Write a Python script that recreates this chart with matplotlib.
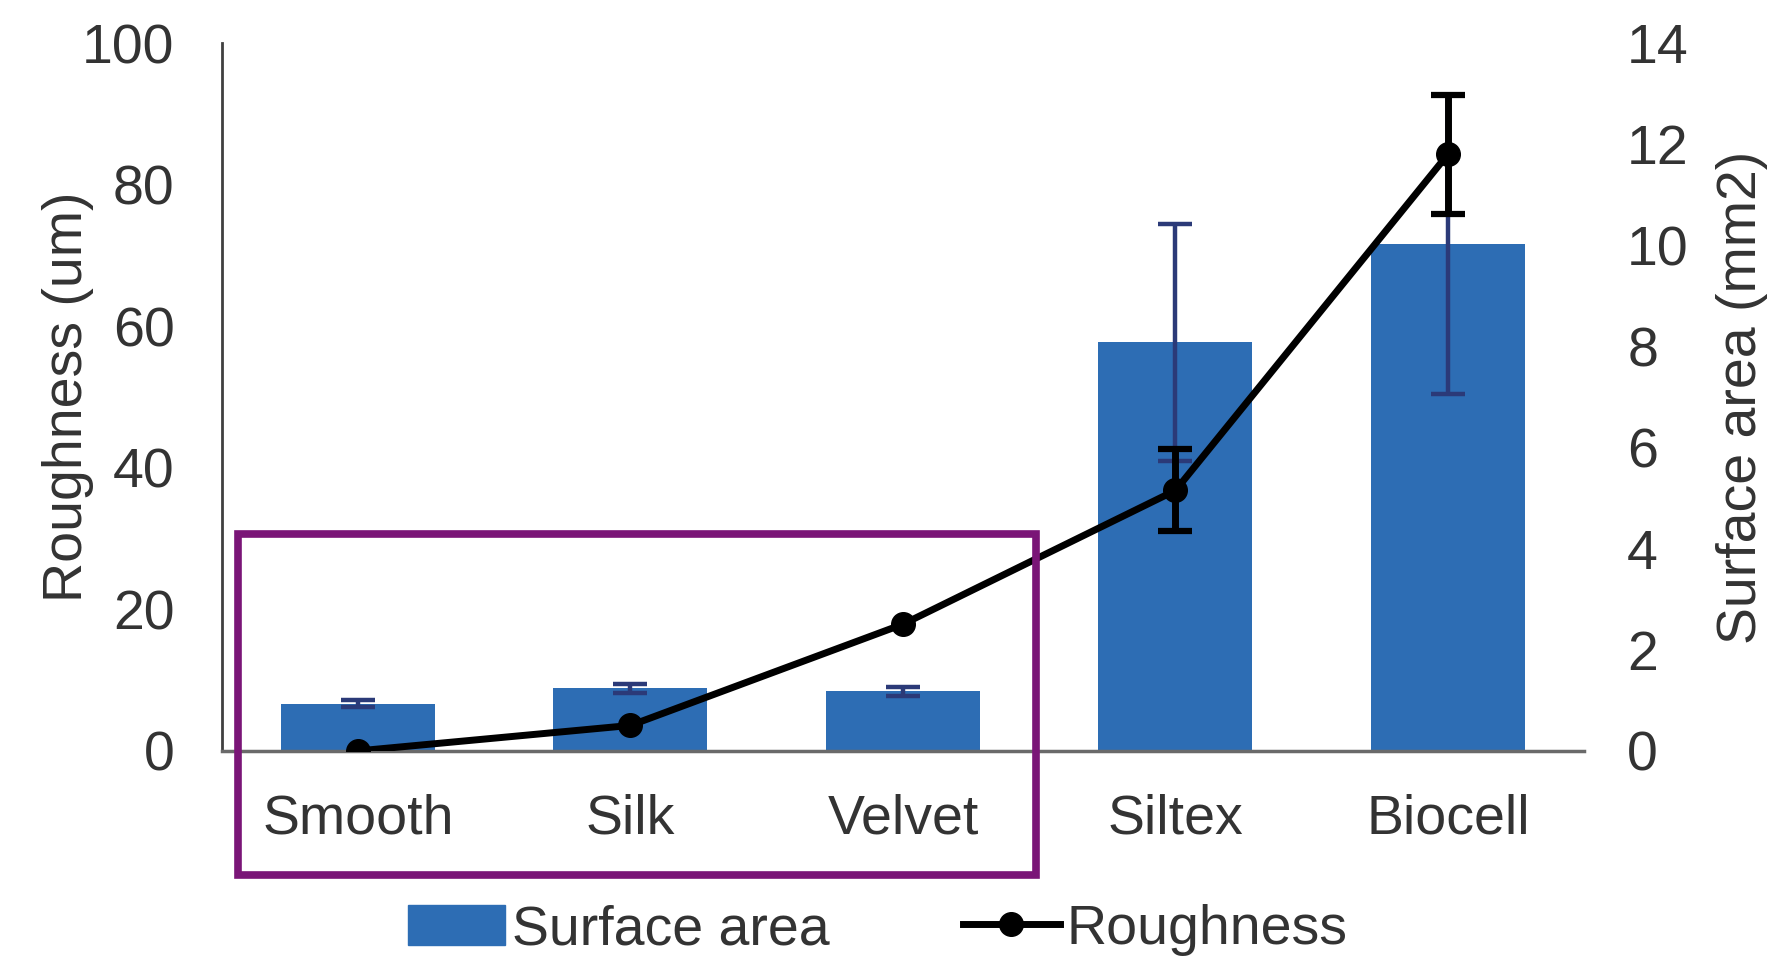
import matplotlib
matplotlib.use("Agg")
import matplotlib.pyplot as plt
from matplotlib.patches import Rectangle
import numpy as np

plt.rcParams['font.family'] = ['Liberation Sans', 'DejaVu Sans']

# data
categories = ['Smooth', 'Silk', 'Velvet', 'Siltex', 'Biocell']
surface_area = [0.93, 1.24, 1.18, 8.08, 10.02]       # mm2 (right axis)
surface_area_err = [0.07, 0.09, 0.09, 2.35, 2.96]
roughness = [0.0, 3.6, 17.9, 36.8, 84.3]             # um (left axis)
roughness_err = [0.0, 0.0, 0.0, 5.8, 8.4]

left_ticks = [0, 20, 40, 60, 80, 100]
right_ticks = [0, 2, 4, 6, 8, 10, 12, 14]

text_col = '#333333'
bar_col = '#2d6db4'
fs = 40

fig = plt.figure(figsize=(17.88, 9.59), dpi=100)
ax = fig.add_axes([0.124, 0.217, 0.762, 0.738])
ax2 = ax.twinx()

x = np.arange(len(categories))

# bars on the right axis, drawn behind the line
ax2.bar(x, surface_area, width=0.565, color=bar_col, zorder=2)
ax2.errorbar(x, surface_area, yerr=surface_area_err, fmt='none',
             ecolor='#2b3a78', elinewidth=3.2, capsize=12, capthick=3.2, zorder=3)
ax2.set_ylim(0, 14)
ax2.set_yticks(right_ticks)

ax.set_zorder(ax2.get_zorder() + 1)
ax.patch.set_visible(False)

ax.errorbar(x, roughness, yerr=[e if e > 0 else np.nan for e in roughness_err],
            fmt='none', ecolor='black', elinewidth=5, capsize=12, capthick=4.5, zorder=3)
line, = ax.plot(x, roughness, color='black', lw=5, marker='o', markersize=17,
                zorder=4)
ax.set_ylim(0, 100)
ax.set_yticks(left_ticks)
ax.set_xlim(-0.5, len(categories) - 0.5)
ax.set_xticks(x)
ax.set_xticklabels(categories)

for a in (ax, ax2):
    for s in ('top', 'right', 'left', 'bottom'):
        a.spines[s].set_visible(False)
    a.tick_params(length=0, labelsize=fs, colors=text_col)

ax.spines['left'].set_visible(True)
ax.spines['left'].set_color('#404040')
ax.spines['left'].set_linewidth(2)
ax.spines['bottom'].set_visible(True)
ax.spines['bottom'].set_color('#6a6a6a')
ax.spines['bottom'].set_linewidth(2.5)
ax.tick_params(axis='y', pad=34)
ax.tick_params(axis='x', pad=31)
ax2.tick_params(axis='y', pad=31)

ax.set_ylabel('Roughness (um)', fontsize=fs, color=text_col)
ax.yaxis.set_label_coords(-0.094, 0.5)
ax2.set_ylabel('Surface area (mm2)', fontsize=fs, color=text_col, rotation=90)
ax2.yaxis.set_label_coords(1.097, 0.5)

# purple box around the first three textures
box = Rectangle((-0.44, -17.6), 2.93, 48.3, fill=False, edgecolor='#7a1577',
                linewidth=5.5, clip_on=False, zorder=10)
ax.add_patch(box)

bar_handle = Rectangle((0, 0), 1, 1, color=bar_col)
fig.legend([bar_handle, line], ['Surface area', 'Roughness'],
           loc='center', bbox_to_anchor=(0.491, 0.03), ncol=2, frameon=False,
           fontsize=fs, labelcolor=text_col, handlelength=1.75, handleheight=0.75,
           handletextpad=0.12, columnspacing=2.4, borderpad=0)

fig.savefig('out.png', dpi=100)
